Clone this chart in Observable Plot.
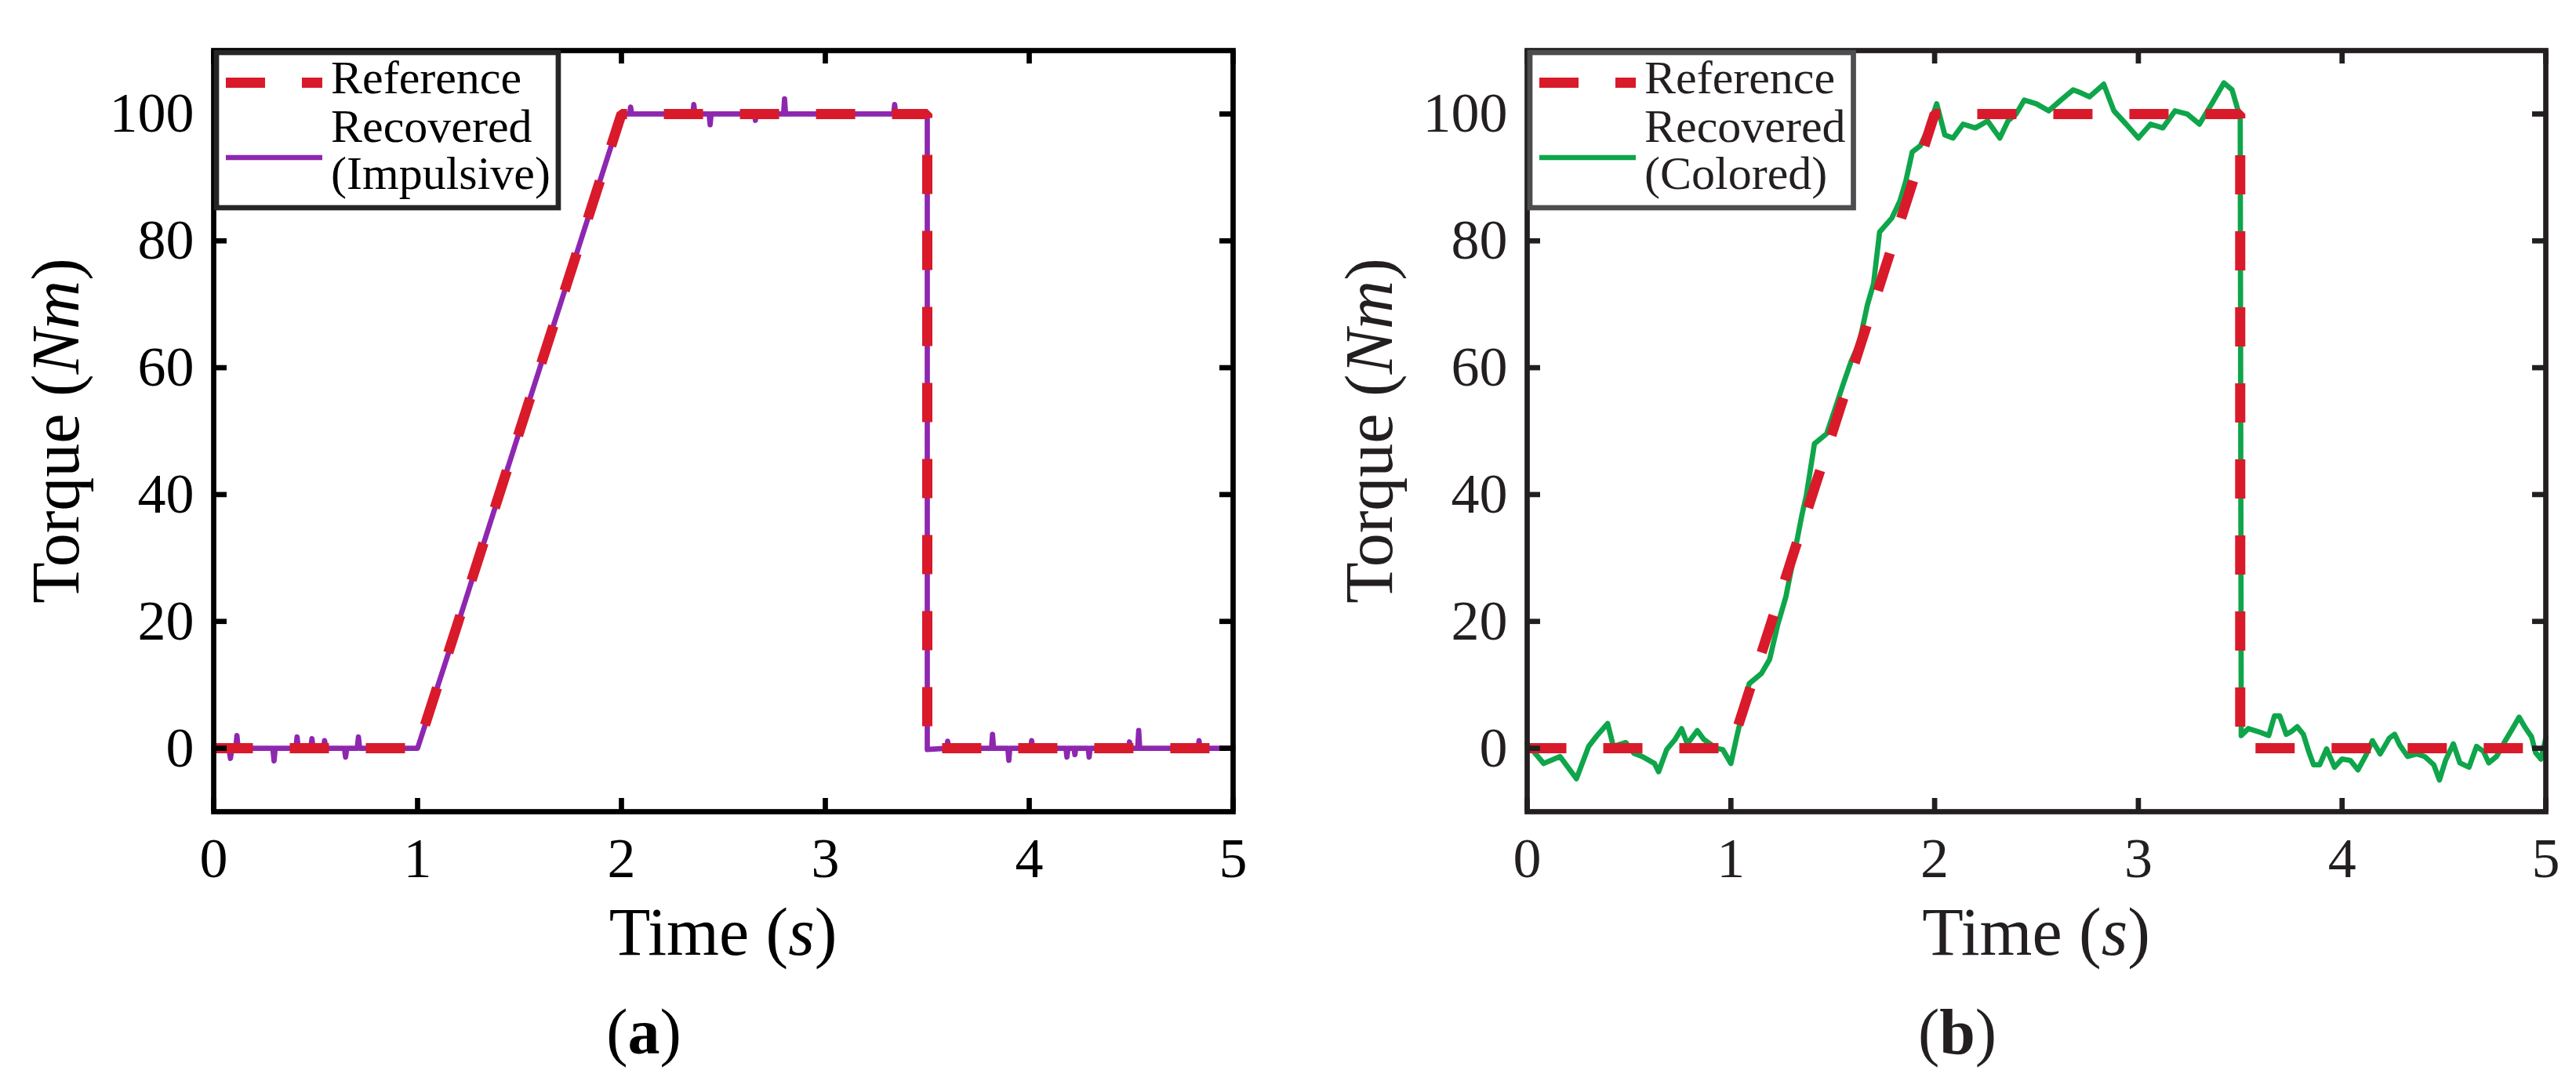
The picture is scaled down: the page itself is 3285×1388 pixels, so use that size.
<!DOCTYPE html>
<html><head><meta charset="utf-8">
<script src="https://cdn.jsdelivr.net/npm/d3@7"></script>
<script src="https://cdn.jsdelivr.net/npm/@observablehq/plot@0.6"></script>
<style>
html,body{margin:0;padding:0;background:#fff;overflow:hidden}
#fig{position:relative;width:3285px;height:1388px;background:#fff}
.panel{position:absolute;top:0}
.cap{position:absolute;top:1276px;width:1642px;font-family:"Liberation Serif","DejaVu Serif",serif;font-size:82px;line-height:82px;text-align:center}
</style></head><body><div id="fig"></div>
<script>
// ---- data ----
const xTicks = [0, 1, 2, 3, 4, 5];
const yTicks = [0, 20, 40, 60, 80, 100];
const refT = [0, 1, 2, 3.5, 3.5, 5];
const refV = [0, 0, 100, 100, 0, 0];
const impT = [0,0.075,0.082,0.09,0.108,0.114,0.12,0.29,0.296,0.302,0.403,0.409,0.415,0.476,0.482,0.488,0.538,0.544,0.55,0.641,0.647,0.653,0.704,0.71,0.716,1.0,1.2,1.5,1.8,2.0,2.04,2.045,2.05,2.35,2.355,2.36,2.43,2.435,2.44,2.652,2.657,2.662,2.795,2.8,2.805,3.335,3.34,3.345,3.5,3.5,3.595,3.6,3.605,3.815,3.82,3.825,3.895,3.9,3.905,4.007,4.012,4.017,4.18,4.185,4.19,4.219,4.224,4.229,4.289,4.294,4.299,4.487,4.492,4.497,4.532,4.537,4.542,4.828,4.833,4.838,5.0];
const impV = [0,0,-1.6,0,0,2.0,0,0,-2.0,0,0,1.8,0,0,1.5,0,0,1.2,0,0,-1.4,0,0,1.8,0,0,19.8,50,80,100,100,101.1,100,100,101.5,100,100,98.3,100,100,99,100,100,102.4,100,100,101.5,100,100,-0.2,0,1.1,0,0,2.2,0,0,-1.9,0,0,1.2,0,0,-1.4,0,0,-1.0,0,0,-1.4,0,0,1.0,0,0,2.8,0,0,1.2,0,0];
const colT = [0,0.081,0.161,0.242,0.302,0.343,0.395,0.423,0.484,0.524,0.565,0.625,0.645,0.685,0.726,0.758,0.786,0.835,0.867,0.927,0.96,1.0,1.03,1.09,1.15,1.19,1.23,1.27,1.31,1.35,1.37,1.41,1.47,1.51,1.55,1.59,1.63,1.67,1.7,1.73,1.79,1.83,1.86,1.89,1.93,1.97,2.01,2.05,2.09,2.14,2.2,2.26,2.32,2.36,2.4,2.44,2.5,2.56,2.62,2.68,2.72,2.76,2.83,2.88,2.94,3.0,3.06,3.12,3.18,3.24,3.3,3.36,3.42,3.46,3.49,3.5,3.505,3.54,3.6,3.64,3.668,3.694,3.726,3.75,3.78,3.81,3.834,3.86,3.89,3.924,3.963,4.0,4.04,4.078,4.117,4.149,4.187,4.232,4.258,4.283,4.322,4.367,4.405,4.45,4.478,4.508,4.546,4.578,4.623,4.66,4.694,4.72,4.758,4.796,4.835,4.869,4.9,4.93,4.95,4.976,5.0];
const colV = [0.7,-2.4,-1.3,-4.8,0.3,2.0,3.9,0.3,0.9,-0.8,-1.3,-2.4,-3.7,-0.2,1.4,3.1,0.7,2.8,1.4,0,-0.2,-2.4,2,10.2,11.8,14,19.5,23.9,30.4,37,39.8,48,49.6,53.4,57.3,61,63.9,69.9,73.2,81.4,83.6,86.3,89.6,94,95,97.8,101.6,96.7,96.2,98.4,97.8,98.9,96.2,98.9,100,102.2,101.6,100.5,102.2,103.8,103.3,102.7,104.7,100.5,98.4,96.2,98.4,97.8,100.5,100,98.4,101.6,104.9,103.8,100.5,100,2.0,3.1,2.5,2.0,5.1,5.1,2.2,2.6,3.4,2.2,-0.3,-2.6,-2.6,-0.1,-3,-1.7,-1.9,-3.4,-1.1,1.2,-0.9,1.6,2.2,0.5,-1.3,-0.9,-1.3,-2.6,-5,-1.9,0.7,-2.3,-3,0.3,-0.5,-2.3,-1.3,0.9,3,4.9,3.2,1.8,-0.7,-1.7,1.6];
const legendRef = "Reference";
const legendRec = ["Recovered", "(Impulsive)"];
const legendCol = ["Recovered", "(Colored)"];

const toRows = (T, V) => T.map((t, i) => ({t, v: V[i]}));
const reference = toRows(refT, refV);
const impulsive = toRows(impT, impV);
const colored = toRows(colT, colV);

const RED = "#d91a2a";
const FONT = '"Liberation Serif", "DejaVu Serif", serif';

function panel({left, width, marginRight, ink, legendStroke, rec, recColor, recLabel, caption}) {
  const marginLeft = 272, marginTop = 64, marginBottom = 235, height = 1270;
  const innerW = width - marginLeft - marginRight;
  const innerH = height - marginTop - marginBottom;
  const tl = 17, sw = 6.7;
  const p = Plot.plot({
    width, height, marginLeft, marginRight, marginTop, marginBottom,
    x: {domain: [0, 5]},
    y: {domain: [-10, 110]},
    style: {fontFamily: FONT, fontSize: "72px", color: ink, background: "white", overflow: "visible"},
    marks: [
      Plot.axisX({ticks: xTicks, tickSize: 0, tickPadding: 32, label: null, tickFormat: d => String(d), fontFamily: FONT}),
      Plot.axisY({ticks: yTicks, tickSize: 0, tickPadding: 25, label: null, tickFormat: d => String(d), fontFamily: FONT}),
      Plot.line(rec, {x: "t", y: "v", stroke: recColor, strokeWidth: 6.7, strokeLinejoin: "round", strokeLinecap: "round"}),
      Plot.line(reference, {x: "t", y: "v", stroke: RED, strokeWidth: 13, strokeDasharray: "50,47", strokeLinecap: "butt", strokeLinejoin: "miter"}),
      Plot.tickY(yTicks, {y: d => d, insetRight: innerW - tl, stroke: ink, strokeWidth: sw}),
      Plot.tickY(yTicks, {y: d => d, insetLeft: innerW - tl, stroke: ink, strokeWidth: sw}),
      Plot.tickX(xTicks, {x: d => d, insetTop: innerH - tl, stroke: ink, strokeWidth: sw}),
      Plot.tickX(xTicks, {x: d => d, insetBottom: innerH - tl, stroke: ink, strokeWidth: sw}),
      Plot.frame({stroke: ink, strokeWidth: sw})
    ]
  });
  const wrap = document.createElement("div");
  wrap.className = "panel";
  wrap.style.left = left + "px";
  wrap.appendChild(p);
  const cap = document.createElement("div");
  cap.className = "cap";
  cap.style.color = ink;
  cap.innerHTML = "(<b>" + caption + "</b>)";
  wrap.appendChild(cap);
  document.getElementById("fig").appendChild(wrap);

  const x = p.scale("x"), y = p.scale("y");
  const X0 = x.apply(0), X5 = x.apply(5), YT = y.apply(110), YB = y.apply(-10);
  const s = d3.select(p);

  // axis labels
  const xl = s.append("text").attr("x", (X0 + X5) / 2).attr("y", 1218)
    .attr("text-anchor", "middle").attr("font-size", 86).attr("fill", ink).style("font-family", FONT);
  xl.append("tspan").text("Time (");
  xl.append("tspan").attr("font-style", "italic").text("s");
  xl.append("tspan").text(")");
  const yl = s.append("text").attr("transform", `translate(100,${(YT + YB) / 2}) rotate(-90)`)
    .attr("text-anchor", "middle").attr("font-size", 86).attr("fill", ink).style("font-family", FONT);
  yl.append("tspan").text("Torque (");
  yl.append("tspan").attr("font-style", "italic").text("Nm");
  yl.append("tspan").text(")");

  // legend
  const g = s.append("g").attr("text-anchor", "start");
  const box = g.append("rect").attr("x", X0 + 4).attr("y", YT + 3).attr("height", 198)
    .attr("fill", "white").attr("stroke", legendStroke).attr("stroke-width", sw);
  g.append("line").attr("x1", X0 + 16).attr("x2", X0 + 139).attr("y1", YT + 41.5).attr("y2", YT + 41.5)
    .attr("stroke", RED).attr("stroke-width", 13).attr("stroke-dasharray", "50,47");
  g.append("line").attr("x1", X0 + 16).attr("x2", X0 + 139).attr("y1", YT + 137).attr("y2", YT + 137)
    .attr("stroke", recColor).attr("stroke-width", 6.7);
  const texts = [[legendRef, 55], [recLabel[0], 117], [recLabel[1], 177]];
  let maxR = 0;
  texts.forEach(([t, dy]) => {
    const el = g.append("text").attr("x", X0 + 150).attr("y", YT + dy).attr("font-size", 60)
      .attr("text-anchor", "start").attr("fill", ink).style("font-family", FONT).text(t);
    const bb = el.node().getBBox();
    maxR = Math.max(maxR, bb.x + bb.width);
  });
  box.attr("width", maxR + 10 - (X0 + 4));
}

panel({left: 0, width: 1642, marginRight: 70, ink: "#000000", legendStroke: "#262626",
  rec: impulsive, recColor: "#8e27b0", recLabel: legendRec, caption: "a"});
panel({left: 1675, width: 1610, marginRight: 39, ink: "#231f20", legendStroke: "#4d4d4f",
  rec: colored, recColor: "#0fa54b", recLabel: legendCol, caption: "b"});
</script></body></html>
